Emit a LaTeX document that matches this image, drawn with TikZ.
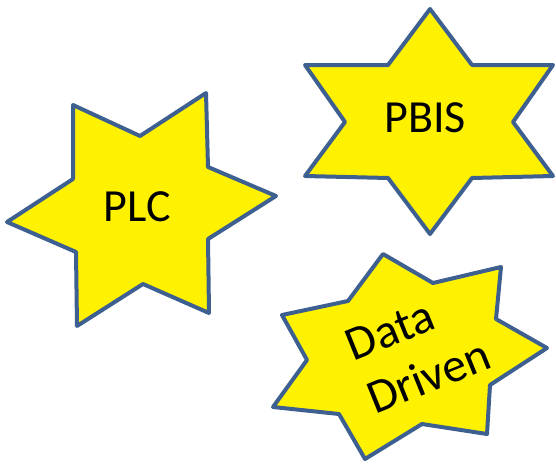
\documentclass[tikz,border=0pt]{standalone}
\usepackage{fontspec}
\setmainfont{Carlito}
\usetikzlibrary{positioning}
\definecolor{starline}{RGB}{62,96,145}
\tikzset{
  starshape/.style = {fill=yellow, draw=starline, line width=4pt, line join=round},
  label/.style = {font=\fontsize{46}{56}\selectfont, inner sep=0pt},
}

\begin{document}
\begin{tikzpicture}[x=1pt, y=-1pt]
    \useasboundingbox (0,0) rectangle (556,463);
    % PLC
    \draw [starshape] (73,105) -- (140,136) -- (206,93) -- (208,167) -- (276,196) -- (208,239)
      -- (209,313) -- (143,284) -- (77,326) -- (76,252) -- (7,222) -- (73,179) -- cycle;
    \node [label] (plc) at (137,207) {PLC};
    % PBIS
    \draw [starshape] (430,9) -- (472,65) -- (553,65) -- (513,122) -- (553,176) -- (472,178)
      -- (430,234) -- (388,178) -- (305,176) -- (345,122) -- (305,65) -- (388,65) -- cycle;
    \node [label] (pbis) at (425,118) {PBIS};
    % Data Driven
    \draw [starshape] (383,254) -- (433,283) -- (501,267) -- (496,319) -- (547,348) -- (490,385)
      -- (487,434) -- (422,424) -- (365,459) -- (339,414) -- (273,407) -- (307,360)
      -- (282,315) -- (348,301) -- cycle;
    \node [label, font=\fontsize{48}{57}\selectfont, align=left, rotate=22] (data) at (418,350) {Data\\Driven};
\end{tikzpicture}
\end{document}
